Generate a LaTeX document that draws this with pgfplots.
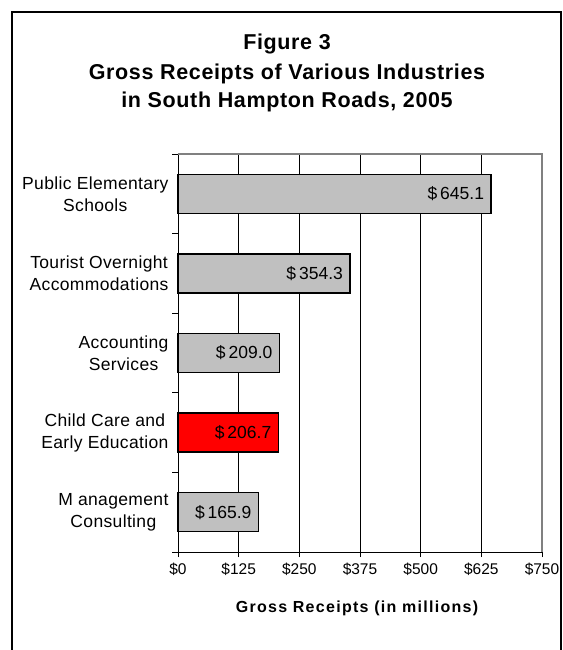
\documentclass[border=0pt]{standalone}
\usepackage{fontspec}
\setmainfont{Liberation Sans}
\newfontfamily\catfont[LetterSpace=2]{Liberation Sans}
\newfontfamily\titlefont[LetterSpace=3]{Liberation Sans}
\newfontfamily\xlabfont[LetterSpace=8]{Liberation Sans}
\usepackage{pgfplots}
\pgfplotsset{compat=1.18}
\definecolor{barfill}{RGB}{192,192,192}
\definecolor{framegray}{RGB}{128,128,128}
\begin{document}
\begin{tikzpicture}
\useasboundingbox (0pt,0pt) rectangle (562pt,-650pt);
\draw[line width=1.5pt] (12pt,-651pt) -- (12pt,-12pt) -- (561pt,-12pt) -- (561pt,-651pt);
\node[font=\titlefont\bfseries\fontsize{21.5}{24}\selectfont, anchor=base] at (287pt,-50pt) {Figure 3};
\node[font=\titlefont\bfseries\fontsize{21.5}{24}\selectfont, anchor=base] at (287pt,-80pt) {Gross Receipts of Various Industries};
\node[font=\titlefont\bfseries\fontsize{21.5}{24}\selectfont, anchor=base] at (287pt,-108pt) {in South Hampton Roads, 2005};
\begin{axis}[
  at={(178pt,-552pt)}, anchor=south west,
  width=364pt, height=398pt, scale only axis,
  xbar, bar shift=0pt, bar width=39pt,
  xmin=0, xmax=750, ymin=-0.5, ymax=4.5,
  axis x line*=bottom, axis y line*=left,
  axis line style={-, black, line width=0.8pt},
  xtick={0,125,250,375,500,625,750},
  xticklabels={\$0,\$125,\$250,\$375,\$500,\$625,\$750},
  xticklabel style={font=\fontsize{15.5}{18}\selectfont, yshift=-2pt},
  xtick align=outside, major tick length=5pt,
  xtick style={black, line width=0.8pt},
  xmajorgrids, grid style={black, line width=0.8pt},
  ytick={0,1,2,3,4},
  yticklabels={{M anagement\\Consulting},{Child Care and\\Early Education},{Accounting\\Services},{Tourist Overnight\\Accommodations},{Public Elementary\\Schools}},
  yticklabel style={align=center, font=\catfont\fontsize{17.5}{22}\selectfont, xshift=-1pt},
  ytick style={draw=none},
  extra y ticks={-0.5,0.5,1.5,2.5,3.5,4.5},
  extra y tick labels={},
  extra y tick style={ytick style={draw=black, line width=0.8pt}, major tick length=6pt, tick align=outside, grid=none},
  /pgf/number format/assume math mode=true,
  nodes near coords={\$\,\pgfmathprintnumber[fixed,fixed zerofill,precision=1]{\pgfplotspointmeta}},
  nodes near coords style={anchor=east, xshift=-3pt, font=\fontsize{17.5}{20}\selectfont, text=black},
  clip=false,
]
\addplot[draw=black, line width=1.4pt, fill=barfill] coordinates {(645.1,4) (354.3,3) (209.0,2) (165.9,0)};
\addplot[draw=black, line width=1.4pt, fill=red] coordinates {(206.7,1)};
\draw[framegray, line width=1.3pt] (rel axis cs:0,1) -- (rel axis cs:1,1) -- (rel axis cs:1,0);
\end{axis}
\node[font=\xlabfont\bfseries\fontsize{16}{18}\selectfont] at (357pt,-608pt) {Gross Receipts (in millions)};
\end{tikzpicture}
\end{document}
